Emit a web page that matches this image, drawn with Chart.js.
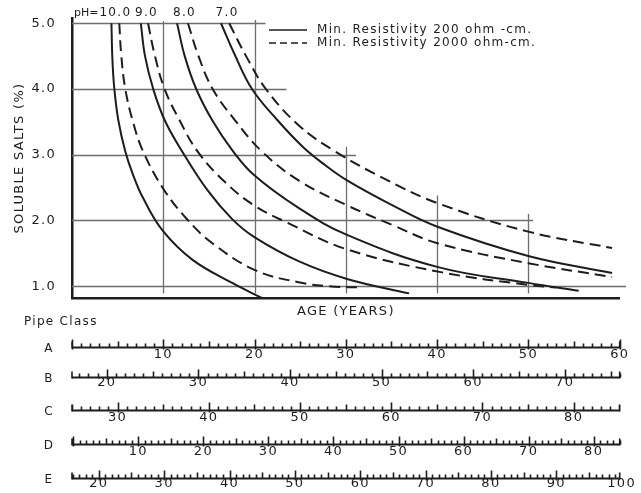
<!DOCTYPE html>
<html>
<head>
<meta charset="utf-8">
<script src="https://cdn.jsdelivr.net/npm/chart.js@4.4.1/dist/chart.umd.min.js"></script>
<style>
  html, body { margin: 0; padding: 0; background: #fff; }
</style>
</head>
<body>
<canvas id="grafico" width="641" height="493"></canvas>
<script>
// age in years (pipe class A scale) and soluble salts (%)
const agePh10Res200 = [4.32, 4.43, 4.64, 5.08, 5.84, 6.7, 7.79, 9.96, 13.21, 17.55, 20.8];
const saltPh10Res200 = [5.0, 4.44, 4.0, 3.52, 3.05, 2.69, 2.34, 1.84, 1.4, 1.05, 0.82];
const agePh10Res2000 = [5.18, 5.4, 5.84, 6.7, 7.79, 9.96, 12.53, 15.41, 20.12, 24.82, 28.07, 31.54];
const saltPh10Res2000 = [5.0, 4.51, 4.0, 3.49, 3.05, 2.49, 2.03, 1.65, 1.24, 1.06, 1.0, 0.98];

const agePh9Res200 = [7.54, 8.0, 8.9, 10.17, 12.07, 14.84, 17.55, 19.94, 24.82, 30.13, 36.93];
const saltPh9Res200 = [5.0, 4.5, 4.0, 3.52, 3.05, 2.46, 2.02, 1.75, 1.38, 1.11, 0.89];
const agePh9Res2000 = [8.33, 9.09, 10.14, 11.8, 13.75, 16.79, 19.94, 23.52, 30.13, 40.54, 49.98, 53.02];
const saltPh9Res2000 = [5.0, 4.5, 4.0, 3.52, 3.05, 2.58, 2.23, 1.97, 1.56, 1.21, 1.02, 0.98];

const agePh8Res200 = [11.51, 12.35, 13.61, 15.38, 17.55, 19.94, 24.82, 30.13, 40.11, 49.98, 55.51];
const saltPh8Res200 = [5.0, 4.5, 4.0, 3.52, 3.07, 2.69, 2.19, 1.78, 1.29, 1.05, 0.93];
const agePh8Res2000 = [12.7, 13.86, 15.41, 17.88, 20.8, 24.82, 30.13, 35.12, 40.11, 49.98, 59.17];
const saltPh8Res2000 = [5.0, 4.5, 4.0, 3.52, 3.05, 2.61, 2.23, 1.93, 1.65, 1.35, 1.14];

const agePh7Res200 = [16.32, 17.87, 19.72, 22.54, 25.36, 27.75, 30.13, 35.12, 40.11, 49.98, 59.17];
const saltPh7Res200 = [5.0, 4.51, 4.0, 3.52, 3.11, 2.84, 2.61, 2.23, 1.9, 1.46, 1.2];
const agePh7Res2000 = [17.22, 19.07, 21.24, 24.82, 28.83, 34.58, 40.11, 49.98, 59.17];
const saltPh7Res2000 = [5.0, 4.5, 4.0, 3.45, 3.05, 2.61, 2.26, 1.83, 1.58];

const phLabels = ["10.0", "9.0", "8.0", "7.0"];
const legendLabels = ["Min. Resistivity 200 ohm -cm.", "Min. Resistivity 2000 ohm-cm."];

const saltTicks = [1, 2, 3, 4, 5];
// partial grid: horizontal lines stop at these ages, vertical lines start at these salts
const hGridSalt = [1, 2, 3, 4, 5];
const hGridEndAge = [60.7, 50.5, 31.1, 23.5, 21.2];
const vGridAge = [10, 20, 30, 40, 50];
const vGridTopSalt = [5.03, 5.05, 3.12, 2.38, 2.1];

// pipe class conversion scales
const pipeClasses = ["A", "B", "C", "D", "E"];
const pipeMin = [0, 16.2, 25, -0.2, 15.9];
const pipeMax = [60, 76, 85.05, 84, 99.7];
const pipeTicksA = [10, 20, 30, 40, 50, 60];
const pipeTicksB = [20, 30, 40, 50, 60, 70];
const pipeTicksC = [30, 40, 50, 60, 70, 80];
const pipeTicksD = [10, 20, 30, 40, 50, 60, 70, 80];
const pipeTicksE = [20, 30, 40, 50, 60, 70, 80, 90, 100];
const pipeTicks = [pipeTicksA, pipeTicksB, pipeTicksC, pipeTicksD, pipeTicksE];

const INK = "#1d1d1d";
const GRID = "#6e6e6e";
const FONT = "'DejaVu Sans', sans-serif";

function curve(label, ages, salts, dashed) {
  return {
    label: label,
    data: ages.map((a, i) => ({ x: a, y: salts[i] })),
    borderColor: INK,
    borderWidth: 2,
    borderDash: dashed ? [11, 6] : [],
    pointRadius: 0,
    fill: false,
    tension: 0.4,
  };
}

const datasets = [
  curve("pH 10.0, 200 ohm-cm", agePh10Res200, saltPh10Res200, false),
  curve("pH 10.0, 2000 ohm-cm", agePh10Res2000, saltPh10Res2000, true),
  curve("pH 9.0, 200 ohm-cm", agePh9Res200, saltPh9Res200, false),
  curve("pH 9.0, 2000 ohm-cm", agePh9Res2000, saltPh9Res2000, true),
  curve("pH 8.0, 200 ohm-cm", agePh8Res200, saltPh8Res200, false),
  curve("pH 8.0, 2000 ohm-cm", agePh8Res2000, saltPh8Res2000, true),
  curve("pH 7.0, 200 ohm-cm", agePh7Res200, saltPh7Res200, false),
  curve("pH 7.0, 2000 ohm-cm", agePh7Res2000, saltPh7Res2000, true),
];

const pipeHeights = [30, 33, 34, 34, 24];
const pipePadding = [9, 7, 9, 9, 7];

const scales = {
  x: {
    type: "linear",
    position: "bottom",
    weight: 0,
    min: 0,
    max: 60,
    grid: { display: false },
    ticks: { display: false },
    border: { display: true, color: INK, width: 2.5 },
    title: {
      display: true,
      text: "AGE (YEARS)",
      color: INK,
      font: { family: FONT, size: 13 },
      padding: { top: 0, bottom: 19 },
    },
    afterFit: (s) => { s.height = 40; },
  },
  y: {
    type: "linear",
    min: 0.82,
    max: 5.08,
    grid: { display: false },
    border: { display: true, color: INK, width: 2.5 },
    ticks: {
      color: INK,
      padding: 8,
      font: { family: FONT, size: 13 },
      callback: (v) => v.toFixed(1),
    },
    afterBuildTicks: (s) => { s.ticks = saltTicks.map((v) => ({ value: v })); },
    title: {
      display: true,
      text: "SOLUBLE SALTS (%)",
      color: INK,
      font: { family: FONT, size: 13 },
      padding: 0,
    },
    afterFit: (s) => { s.width = 60; },
  },
};

pipeClasses.forEach((c, i) => {
  scales["pipe" + c] = {
    type: "linear",
    position: "bottom",
    weight: i + 1,
    bounds: "data",
    min: pipeMin[i],
    max: pipeMax[i],
    grid: { display: false, drawTicks: false },
    border: { display: false },
    ticks: {
      color: INK,
      padding: pipePadding[i],
      autoSkip: false,
      maxRotation: 0,
      font: { family: FONT, size: 13 },
    },
    afterBuildTicks: (s) => { s.ticks = pipeTicks[i].map((v) => ({ value: v })); },
    afterFit: (s) => { s.height = pipeHeights[i]; },
  };
});

const extras = {
  id: "extras",
  beforeDraw(chart) {
    const ctx = chart.ctx;
    ctx.save();
    ctx.fillStyle = "#fff";
    ctx.fillRect(0, 0, chart.width, chart.height);
    ctx.restore();
    // wide lettering like the original drawing
    ctx.letterSpacing = "1.3px";
  },
  beforeDatasetsDraw(chart) {
    const { ctx } = chart;
    const x = chart.scales.x;
    const y = chart.scales.y;
    ctx.save();
    ctx.strokeStyle = GRID;
    ctx.lineWidth = 1.3;
    hGridSalt.forEach((s, i) => {
      const py = Math.round(y.getPixelForValue(s)) + 0.5;
      ctx.beginPath();
      ctx.moveTo(x.getPixelForValue(0), py);
      ctx.lineTo(x.getPixelForValue(hGridEndAge[i]), py);
      ctx.stroke();
    });
    vGridAge.forEach((a, i) => {
      const px = Math.round(x.getPixelForValue(a)) + 0.5;
      ctx.beginPath();
      ctx.moveTo(px, y.getPixelForValue(vGridTopSalt[i]));
      ctx.lineTo(px, y.getPixelForValue(0.89));
      ctx.stroke();
    });
    ctx.restore();
  },
  afterDraw(chart) {
    const { ctx } = chart;
    const x = chart.scales.x;
    ctx.save();
    ctx.fillStyle = INK;
    ctx.strokeStyle = INK;
    ctx.textBaseline = "middle";

    // pH labels above each pair of curves
    ctx.font = "12px " + FONT;
    const starts = [
      [agePh10Res200[0], agePh10Res2000[0]],
      [agePh9Res200[0], agePh9Res2000[0]],
      [agePh8Res200[0], agePh8Res2000[0]],
      [agePh7Res200[0], agePh7Res2000[0]],
    ];
    starts.forEach((pair, i) => {
      const cx = x.getPixelForValue((pair[0] + pair[1]) / 2) + (i === 0 ? 0 : 2);
      ctx.textAlign = "center";
      ctx.fillText(phLabels[i], cx, 13);
      if (i === 0) {
        const w = ctx.measureText(phLabels[i]).width;
        ctx.textAlign = "right";
        ctx.font = "11px " + FONT;
        ctx.letterSpacing = "0px";
        ctx.fillText("pH=", cx - w / 2 - 1, 13);
        ctx.letterSpacing = "1.3px";
        ctx.font = "12px " + FONT;
      }
    });

    // legend
    ctx.textAlign = "left";
    legendLabels.forEach((txt, i) => {
      const ly = 30 + i * 13;
      const ds = chart.data.datasets[i];
      ctx.save();
      ctx.lineWidth = ds.borderWidth - 0.3;
      ctx.setLineDash(i === 1 ? [7, 4] : []);
      ctx.beginPath();
      ctx.moveTo(269, ly);
      ctx.lineTo(307, ly);
      ctx.stroke();
      ctx.restore();
      ctx.fillText(txt, 317, ly);
    });

    // pipe class scales: base line with tick marks pointing up
    ctx.fillText("Pipe Class", 24, 322);
    pipeClasses.forEach((c, i) => {
      const s = chart.scales["pipe" + c];
      const base = Math.round(s.top + 9) + 0.5;
      const x0 = s.getPixelForValue(s.min);
      const x1 = s.getPixelForValue(s.max);
      ctx.textAlign = "center";
      ctx.fillText(c, 49, base + 1);
      ctx.lineWidth = 2;
      ctx.beginPath();
      ctx.moveTo(x0, base);
      ctx.lineTo(x1, base);
      ctx.stroke();
      ctx.lineWidth = 1.6;
      ctx.beginPath();
      for (let v = Math.ceil(s.min); v <= Math.floor(s.max); v++) {
        const px = Math.round(s.getPixelForValue(v)) + 0.5;
        const h = v % 10 === 0 ? 8 : v % 5 === 0 ? 6 : 4;
        ctx.moveTo(px, base - h);
        ctx.lineTo(px, base + (v % 10 === 0 ? 2 : 0));
      }
      [x0, x1].forEach((px) => {
        ctx.moveTo(px, base - 6);
        ctx.lineTo(px, base + 1);
      });
      ctx.stroke();
    });
    ctx.restore();
  },
};

new Chart(document.getElementById("grafico"), {
  type: "line",
  data: { datasets: datasets },
  options: {
    responsive: false,
    animation: false,
    events: [],
    layout: { padding: { left: 12, right: 18, top: 18, bottom: 0 } },
    scales: scales,
    plugins: {
      legend: { display: false },
      tooltip: { enabled: false },
    },
  },
  plugins: [extras],
});
</script>
</body>
</html>
